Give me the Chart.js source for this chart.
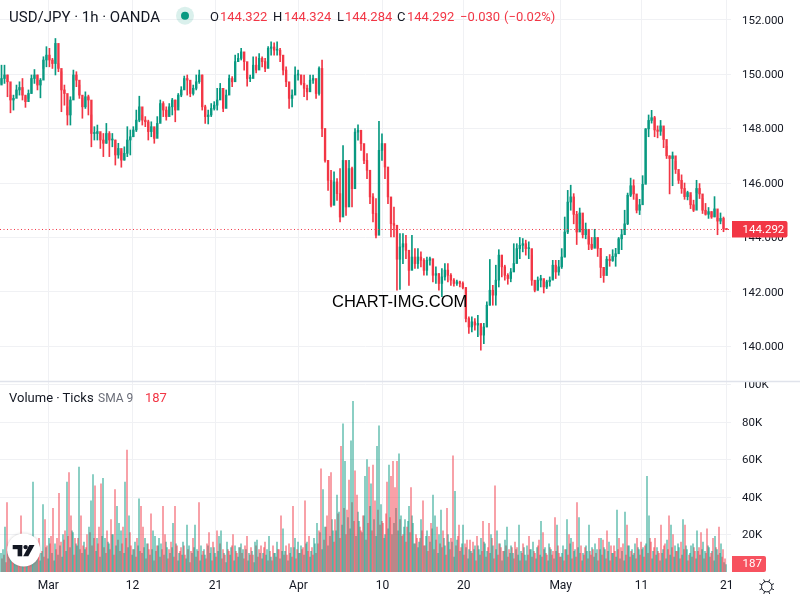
<!DOCTYPE html>
<html><head><meta charset="utf-8">
<style>
html,body{margin:0;padding:0;background:#fff;overflow:hidden}
#wrap{position:relative;width:800px;height:600px;font-family:Roboto,sans-serif;color:#131722}
canvas{position:absolute;left:0;top:0}
.t{position:absolute;white-space:pre;font-size:13px;line-height:16px}
.r{color:#f23645}.g{color:#6a6d78}
</style></head><body><div id="wrap"><canvas id="c" width="800" height="600"></canvas>
<div class="t" style="left:9px;top:9px;font-size:15px">USD/JPY · 1h · OANDA</div>
<div class="t" style="left:210px;top:9px">O</div><div class="t r" style="left:220px;top:9px">144.322</div>
<div class="t" style="left:273px;top:9px">H</div><div class="t r" style="left:284px;top:9px">144.324</div>
<div class="t" style="left:337px;top:9px">L</div><div class="t r" style="left:345px;top:9px">144.284</div>
<div class="t" style="left:397px;top:9px">C</div><div class="t r" style="left:407px;top:9px">144.292</div>
<div class="t r" style="left:460px;top:9px">−0.030</div><div class="t r" style="left:504px;top:9px">(−0.02%)</div>
<div class="t" style="left:9px;top:390px">Volume · Ticks</div>
<div class="t g" style="left:98px;top:390px;font-size:12px">SMA 9</div><div class="t r" style="left:145px;top:390px">187</div>
<div class="t" style="left:332px;top:292px;font-family:'Liberation Sans',sans-serif;font-size:16.5px;line-height:18px;color:#000">CHART-IMG.COM</div>
</div>
<script src="https://cdn.jsdelivr.net/npm/chart.js@4"></script>
<script>
const firstOpen = 149.60;
const closes = [
149.84,149.97,149.72,149.05,149.11,149.42,149.51,149.23,148.99,149.29,
149.84,149.97,149.60,149.78,150.52,150.70,150.52,150.39,151.13,150.21,
149.42,149.29,148.50,149.05,149.97,149.78,149.23,148.80,149.17,149.05,
147.82,147.82,147.89,147.58,147.46,147.82,147.58,147.58,147.03,147.27,
146.84,147.09,147.58,147.70,147.95,148.31,148.80,148.31,148.25,147.89,
148.07,147.64,148.19,148.92,148.68,148.44,148.80,149.05,148.68,149.23,
149.42,149.84,149.78,149.29,149.48,149.72,149.97,148.80,148.44,148.50,
148.74,148.86,149.05,149.48,148.74,149.23,149.84,149.72,150.46,150.58,
150.82,150.46,149.84,149.84,150.33,150.15,150.58,150.46,150.21,150.95,
151.00,150.88,150.88,150.70,150.15,149.72,149.11,149.23,149.97,149.97,
149.66,149.48,149.35,149.78,149.84,149.29,150.21,148.00,146.83,146.10,
145.18,146.04,145.61,144.75,146.83,145.12,146.53,145.79,147.87,147.94,
147.45,146.83,146.47,145.49,144.88,144.08,147.20,147.45,146.59,145.49,
144.51,144.45,143.20,143.65,143.77,143.53,142.79,143.28,143.04,143.28,
143.16,142.79,143.16,143.22,142.61,142.67,142.31,142.55,142.80,142.61,
142.43,142.31,142.37,142.31,142.16,141.02,140.71,140.90,140.78,140.84,
140.41,140.71,141.51,142.06,141.88,142.43,143.35,142.92,142.61,142.49,
142.73,143.04,143.59,143.71,143.77,143.59,143.59,142.43,142.06,142.43,
142.49,142.18,142.37,142.43,142.98,142.73,142.92,143.28,144.20,145.30,
145.49,144.85,144.20,144.90,144.10,144.30,143.75,143.60,144.00,143.60,
142.90,142.60,143.20,143.15,143.30,143.40,143.95,144.10,144.50,145.55,
145.90,145.60,145.00,145.20,145.95,147.99,148.30,148.40,147.95,147.90,
148.10,147.60,147.00,146.90,147.00,146.50,146.10,145.80,145.50,145.65,
145.20,145.00,145.80,145.60,145.00,144.85,144.95,144.75,145.05,144.60,
144.70,144.322,144.292];
const highs = [
150.33,150.33,149.97,149.23,149.23,149.60,149.72,149.84,149.17,149.42,
149.97,150.17,149.97,149.84,150.64,151.01,150.95,150.58,151.31,150.39,
150.09,149.60,148.80,149.17,150.15,150.09,149.60,149.11,149.35,149.23,
148.50,148.07,148.13,147.82,147.82,148.19,147.89,147.82,147.58,147.46,
147.15,147.33,148.07,147.95,148.07,148.68,149.19,148.50,148.44,148.31,
148.25,148.01,148.44,149.05,148.99,148.80,148.92,149.11,149.05,149.29,
149.54,149.93,149.97,149.66,149.60,149.97,150.15,149.97,148.86,148.68,
148.92,148.99,149.48,149.66,149.17,149.42,149.97,149.91,150.70,150.76,
150.95,150.76,150.27,149.97,150.64,150.64,150.76,150.64,150.58,151.01,
151.19,151.15,151.19,150.95,150.46,150.27,149.66,149.42,150.27,150.15,
149.97,149.97,149.60,149.97,149.97,149.60,150.27,150.52,148.00,146.83,
146.47,146.41,146.16,146.53,147.38,145.92,146.83,146.59,148.00,148.14,
147.94,147.38,147.08,146.47,145.61,145.43,148.27,147.81,147.14,146.16,
145.24,145.12,143.83,144.14,144.14,144.08,143.28,144.08,143.59,143.59,
143.47,143.22,143.28,143.28,142.98,142.92,142.67,142.86,143.04,143.04,
142.67,142.49,142.43,142.40,142.37,142.16,141.08,141.08,141.02,141.14,
140.59,140.84,141.63,143.19,142.24,142.98,143.55,143.35,142.98,142.67,
142.86,143.77,143.77,144.00,143.96,143.90,143.84,143.35,142.37,142.55,
142.61,142.43,142.43,142.55,143.16,143.16,143.16,143.59,144.75,145.73,
145.92,145.61,144.96,145.08,144.65,144.53,144.04,144.00,144.30,143.98,
143.30,142.90,143.30,143.37,143.55,143.60,144.00,144.30,145.00,145.63,
146.18,146.12,145.45,145.40,146.27,148.00,148.50,148.67,148.45,148.10,
148.30,148.00,147.35,147.00,147.14,146.80,146.35,146.30,146.00,145.70,
145.55,145.37,146.10,145.98,145.43,145.25,145.10,144.95,145.50,144.70,
144.90,144.75,144.324];
const lows = [
149.66,149.66,149.17,148.58,148.68,149.23,149.23,149.05,148.78,149.11,
149.29,149.66,149.42,149.13,150.21,150.27,150.27,150.21,149.97,150.09,
148.62,148.86,148.13,148.13,149.42,149.54,149.11,148.38,148.74,148.50,
147.33,147.58,147.58,147.27,146.97,147.46,146.97,147.33,146.66,146.91,
146.58,146.84,146.97,147.03,147.70,147.89,148.25,148.13,148.07,147.58,
147.70,147.46,147.82,148.25,148.44,148.31,148.50,148.50,148.25,148.80,
149.17,149.48,149.23,149.17,149.23,149.42,149.66,148.68,148.19,148.17,
148.44,148.68,148.68,149.17,148.62,149.05,149.29,149.54,149.84,150.46,
150.52,150.15,149.56,149.72,149.97,150.05,150.33,150.27,150.09,150.52,
150.70,150.70,150.70,150.46,149.97,149.54,148.74,148.80,149.29,149.78,
149.60,149.17,149.05,149.42,149.66,149.11,149.23,147.70,146.77,145.73,
145.12,145.30,145.36,144.57,145.06,144.81,145.73,145.12,146.59,147.57,
147.20,146.71,146.16,145.24,144.57,143.98,144.57,146.83,146.16,145.24,
144.02,144.02,142.06,142.09,143.04,143.22,142.24,143.04,142.86,142.86,
142.92,142.61,142.61,142.98,142.37,142.31,142.06,141.82,142.43,142.37,
142.24,142.21,142.24,142.18,142.11,140.90,140.47,140.53,140.59,140.35,
139.86,140.10,140.71,141.51,141.51,141.51,142.18,142.55,142.43,142.28,
142.37,142.79,143.22,143.22,143.47,143.35,143.22,142.24,142.00,142.06,
142.18,141.96,142.12,142.21,142.49,142.49,142.61,142.86,143.28,144.14,
145.00,144.50,143.74,144.50,143.98,143.95,143.55,143.55,143.65,143.30,
142.52,142.35,142.82,142.94,143.12,142.94,143.55,143.55,144.30,144.47,
145.50,145.40,144.90,144.84,145.75,146.00,147.70,148.20,147.70,147.66,
147.75,147.30,146.90,145.60,145.90,146.35,145.98,145.62,145.40,145.38,
145.06,144.95,145.65,145.43,144.88,144.82,144.70,144.70,144.76,144.10,
144.50,144.21,144.284];
const volumeTicksK = [
10,12,24,37,11,9,14,8,12,10, 30,13,9,15,11,12,48,14,10,18, 10,36,28,14,18,19,34,15,18,42,
16,20,22,48,53,30,21,18,14,56, 30,14,12,20,24,38,52,46,18,24, 47,50,18,22,15,28,20,44,35,26,
22,24,48,65,30,14,12,16,18,39, 35,24,18,15,12,31,22,19,14,18, 15,35,20,13,12,16,26,35,14,10,
13,16,9,25,14,11,18,25,12,37, 14,11,9,15,21,13,16,10,22,19, 22,12,9,16,11,13,20,14,10,13,
15,12,14,19,10,13,9,16,17,12, 14,10,16,12,19,
8,14,10,16,12, 30,23,11,9,15,13,35,18,12,10, 14,13,38,16,19,11,9,15,26,22,
55,44,24,30,51,53,22,28,41,32, 67,79,59,33,49,70,91,54,41,27, 22,30,51,60,56,47,57,38,67,78,
36,26,20,48,57,51,59,45,59,63, 30,20,28,24,35,45,26,15,18,16, 28,38,14,22,19,26,41,30,24,20,
33,22,14,34,16,18,62,43,17,25, 13,25,15,17,12,11,16,14,19,12, 18,27,15,11,26,20,14,46,22,15,
13,11,17,24,12,14,10,16,13,25, 11,15,9,14,19,12,16,10,13,17,
27,21,13,9,15,12,11,29,25,10, 8,14,12,28,20,18,16,12,37,29, 14,10,13,11,25,9,12,15,12,18,
18,17,12,22,16,14,10,11,33,18, 13,15,32,25,14,11,9,15,18,12, 16,13,14,51,30,16,11,18,13,10,
25,12,15,17,30,25,20,14,11,13, 16,28,25,12,9,14,15,11,22,13, 21,16,11,23,13,10,18,19,12,24,
15,12,7];
const volumeBetweenK = [
7,9,5,11,8,6,10,13,7,9, 12,6,8,14,5,10,7,16,9,6, 11,8,13,7,15,10,6,12,9,14,
8,17,11,19,13,22,9,15,18,12, 10,16,13,9,21,14,18,11,15,8, 19,13,10,16,12,20,9,14,17,11,
15,10,18,13,21,9,12,8,14,11, 10,13,7,15,9,12,6,11,14,8, 12,9,16,7,10,13,8,15,6,11,
9,14,7,12,5,10,13,8,11,6, 9,12,7,14,10,6,13,8,11,15, 7,10,5,12,9,14,6,11,8,13,
10,7,12,6,9,11,5,14,8,10, 7,13,9,6,11,
6,10,8,12,7, 11,9,14,6,10,8,13,7,16,10, 12,9,15,11,8,13,18,10,15,21,
12,17,24,14,19,28,16,22,31,18, 25,34,20,29,23,37,27,19,32,24, 21,30,17,26,35,22,28,19,33,25,
27,18,31,23,29,20,26,34,22,28, 19,24,16,27,21,30,15,20,13,18, 22,14,19,11,16,23,12,17,10,15,
13,18,9,20,12,16,8,14,19,11, 15,9,13,7,17,10,12,6,14,9, 11,16,8,13,10,18,7,12,9,15,
6,11,14,8,10,13,7,12,9,6, 10,13,6,9,12,8,11,7,14,9,
8,12,10,6,13,9,7,11,14,8, 10,6,12,9,15,7,11,8,13,10, 6,9,14,7,11,13,8,10,6,12,
9,13,7,11,6,10,14,8,12,7, 11,6,9,14,8,12,10,7,13,9, 12,8,15,10,18,7,13,9,11,6,
10,14,7,12,9,13,8,11,15,7, 9,12,14,6,10,8,13,7,11,9, 12,7,10,14,8,11,6,13,9,10,
8,5,4];
const volumeSides = ("uuudduduud"+"dududduuud"+"uudduddudd"+"dududduduu"+"dduduuudud"+"duudududuu"
+"udududuudu"+"dduudduudu"+"uddudduddu"+"duduudduud"+"ududdududu"+"uddudududu"+"uuddudduud"+"duduu"
+"uduud"+"duuddududu"+"uddududuud"+"duuddduduu"+"duudduuddu"+"dduududduu"+"udududdddu"+"udududuudu"
+"uddudduudu"+"udududduud"+"dudduududu"+"uduuduudud"+"dduuduuddu"+"uduuduudud"
+"ududuuddud"+"dududududu"+"duduudduud"+"ududududud"+"ddududuudu"+"duduududud"+"dududududu"+"dududuudud"+"duududduud"+"udd").split("");
const priceTicks = [140,142,144,146,148,150,152];
const volumeAxisTicks = [20,40,60,80,100];
const timeLabels = ["Mar","12","21","Apr","10","20","May","11","21"];
const timeLabelBars = [15.62,43.73,71.43,99.1,127.2,154.27,186.65,213.6,242.06];
const lastPrice = 144.292;
const lastVolume = 187;

const UP="#089981",DOWN="#f23645",GRID="#f0f1f4";
const VOL_UP="rgba(8,153,129,.5)",VOL_DOWN="rgba(242,54,69,.5)";
const opens = closes.map((c,i)=> i? closes[i-1] : firstOpen);
const candleColor = closes.map((c,i)=> c>=opens[i]?UP:DOWN);

const overlay = {
  id:"overlay",
  afterDraw(chart){
    const ctx=chart.ctx, yP=chart.scales.y, area=chart.chartArea;
    ctx.save();
    ctx.fillStyle="#fff"; ctx.fillRect(area.right+1,372,69,9);
    ctx.strokeStyle="#e0e3eb"; ctx.lineWidth=1.5;
    ctx.beginPath(); ctx.moveTo(0,381.5); ctx.lineTo(800,381.5); ctx.stroke();
    const py=yP.getPixelForValue(lastPrice);
    ctx.fillStyle=DOWN; ctx.beginPath(); ctx.roundRect(732,py-8.5,55.5,16.5,[0,2,2,0]); ctx.fill();
    ctx.fillStyle="#fff"; ctx.font="11.5px Roboto,sans-serif"; ctx.textBaseline="middle"; ctx.textAlign="left";
    ctx.fillText(lastPrice.toFixed(3),742.5,py+.5);
    ctx.fillStyle="#f7525f"; ctx.beginPath(); ctx.roundRect(732,556,34,16,[0,2,2,0]); ctx.fill();
    ctx.fillStyle="#fff"; ctx.fillText(String(lastVolume),742.5,564.5);
    ctx.fillStyle="rgba(8,153,129,.15)"; ctx.beginPath(); ctx.arc(185,15.7,9,0,7); ctx.fill();
    ctx.fillStyle=UP; ctx.beginPath(); ctx.arc(185,15.7,4,0,7); ctx.fill();
    ctx.shadowColor="rgba(0,0,0,.2)"; ctx.shadowBlur=3;
    ctx.fillStyle="#fff"; ctx.beginPath(); ctx.arc(23.7,550,16.5,0,7); ctx.fill();
    ctx.shadowBlur=0; ctx.fillStyle="#131722";
    ctx.fillRect(12.7,545,9.5,4.2); ctx.fillRect(17.6,545,4.6,11.3);
    ctx.beginPath(); ctx.arc(25.6,547.1,2.2,0,7); ctx.fill();
    ctx.beginPath(); ctx.moveTo(29.3,545); ctx.lineTo(34.5,545); ctx.lineTo(28.3,556.3); ctx.lineTo(23.2,556.3); ctx.fill();
    ctx.strokeStyle="#131722"; ctx.lineWidth=1; ctx.beginPath(); ctx.arc(766.7,586.7,5.2,0,7); ctx.stroke();
    for(let a=0;a<8;a++){const s=Math.sin(a*Math.PI/4+.39),c=Math.cos(a*Math.PI/4+.39);
      ctx.beginPath(); ctx.moveTo(766.7+c*5.2,586.7+s*5.2); ctx.lineTo(766.7+c*7.8,586.7+s*7.8); ctx.stroke();}
    ctx.restore();
  }
};
const noPad = s=>{s.paddingTop=0;s.paddingBottom=0;s.paddingLeft=0;s.paddingRight=0};

new Chart(document.getElementById("c"),{
  plugins:[overlay],
  data:{datasets:[
    {type:"bar",label:"Ticks between",xAxisID:"xV",yAxisID:"yV",grouped:false,barThickness:1.2,order:6,
     data:volumeBetweenK.map((v,i)=>({x:i+0.5,y:v})),
     backgroundColor:volumeSides.map(s=>s==="u"?VOL_DOWN:VOL_UP)},
    {type:"bar",label:"Ticks",xAxisID:"xV",yAxisID:"yV",grouped:false,barThickness:1.2,order:5,
     data:volumeTicksK.map((v,i)=>({x:i,y:v})),
     backgroundColor:volumeSides.map(s=>s==="u"?VOL_UP:VOL_DOWN)},
    {type:"bar",label:"Wicks",xAxisID:"x",yAxisID:"y",grouped:false,barThickness:1,order:4,
     data:closes.map((c,i)=>({x:i,y:[lows[i],highs[i]]})),backgroundColor:candleColor},
    {type:"bar",label:"Bodies",xAxisID:"x",yAxisID:"y",grouped:false,barThickness:1.7,minBarLength:1,order:3,
     data:closes.map((c,i)=>({x:i,y:[opens[i],c]})),backgroundColor:candleColor},
    {type:"line",label:"Last",xAxisID:"x",yAxisID:"y",order:2,pointRadius:0,borderWidth:1,borderColor:DOWN,borderDash:[1,2.5],
     data:[{x:-0.5,y:lastPrice},{x:243.5,y:lastPrice}]}
  ]},
  options:{
    responsive:false,animation:false,devicePixelRatio:1,
    layout:{padding:0},
    plugins:{legend:{display:false},tooltip:{enabled:false}},
    scales:{
      x:{type:"linear",position:"bottom",offset:false,min:-0.5,max:243.5,
        afterBuildTicks:s=>{s.ticks=timeLabelBars.map(v=>({value:v}))},
        afterFit:s=>{s.height=28;noPad(s)},
        border:{display:false},grid:{offset:false,color:GRID,drawTicks:false},
        ticks:{autoSkip:false,maxRotation:0,padding:7,color:"#131722",font:{family:"Roboto",size:12},
          callback:(v,i)=>timeLabels[i]}},
      xV:{type:"linear",display:false,offset:false,min:-0.5,max:365},
      y:{type:"linear",position:"right",stack:"panes",stackWeight:381,weight:0,min:138.725,max:152.725,
        afterBuildTicks:s=>{s.ticks=priceTicks.map(v=>({value:v}))},
        afterFit:s=>{s.width=69;noPad(s)},
        border:{display:false},grid:{color:GRID,drawTicks:false},
        ticks:{padding:11,labelOffset:1,crossAlign:"near",color:"#131722",font:{family:"Roboto",size:11.5},callback:v=>v.toFixed(3)}},
      yV:{type:"linear",position:"right",stack:"panes",stackWeight:191,weight:1,min:0,max:101.87,
        afterBuildTicks:s=>{s.ticks=volumeAxisTicks.map(v=>({value:v}))},
        afterFit:s=>{s.width=69;noPad(s)},
        border:{display:false},grid:{color:GRID,drawTicks:false},
        ticks:{padding:11,labelOffset:1,crossAlign:"near",color:"#131722",font:{family:"Roboto",size:11.5},callback:v=>v+"K"}}
    }
  }
});
</script></body></html>
